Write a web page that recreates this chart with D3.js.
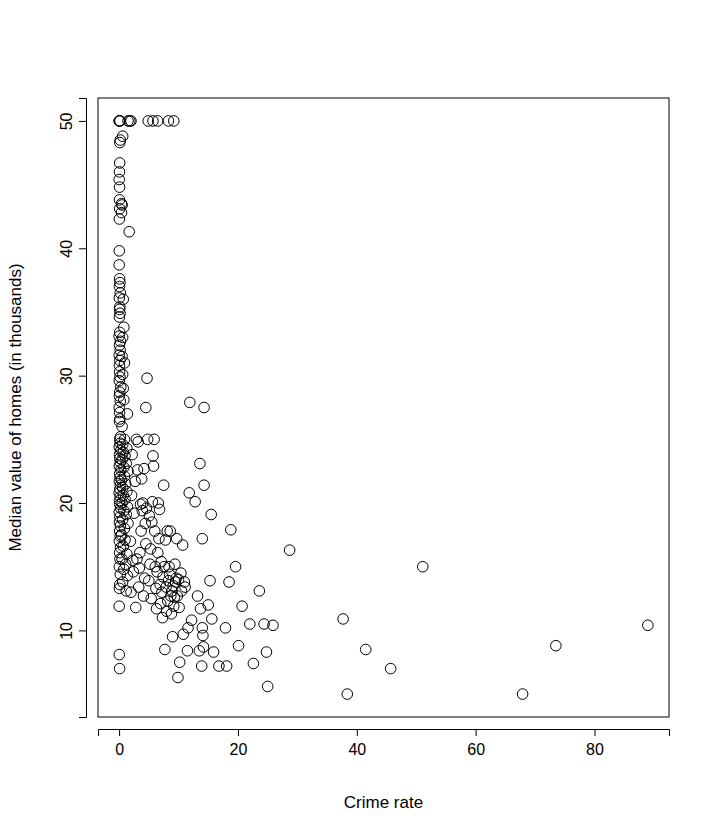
<!DOCTYPE html>
<html>
<head>
<meta charset="utf-8">
<script src="https://cdn.jsdelivr.net/npm/d3@7"></script>
<style>
  body { margin: 0; background: #fff; }
  text { font-family: "Liberation Sans", Arial, sans-serif; fill: #000; }
</style>
</head>
<body>
<svg id="chart" width="720" height="840"></svg>
<script>
// crime rate near zero (parallel arrays)
const crimeA = [
  0.09, 0.03, 0.02, 0.06, 0.12, 0.2, 0.05, 0.15, 0.08, 0.25,
  0.04, 0.18, 0.1, 0.22, 0.06, 0.14, 0.03, 0.27, 0.11, 0.07,
  0.19, 0.02, 0.13, 0.24, 0.05, 0.16, 0.09, 0.29, 0.04, 0.21,
  0.12, 0.07, 0.26, 0.03, 0.17, 0.1, 0.23, 0.06, 0.14, 0.08,
  0.02, 0.2, 0.05, 0.11, 0.28, 0.04, 0.15, 0.09, 0.06, 0.13,
  0.03, 0.18, 0.07, 0.22, 0.01, 0.1, 0.05, 0.16, 0.08, 0.12,
  0.04, 0.2, 0.06, 0.14, 0.09, 0.02, 0.03, 0.05, 0.11, 0.4,
  0.07, 0.08, 0.02, 0.06, 0.1, 0.12, 0.2, 0.01, 0.06, 0.15
];
const medvA = [
  7.0, 8.1, 11.9, 13.3, 13.6, 14.4, 15.0, 15.6, 16.1, 16.5,
  17.0, 17.4, 17.8, 18.2, 18.5, 18.9, 19.3, 19.6, 19.9, 20.2,
  20.5, 20.8, 21.1, 21.4, 21.7, 22.0, 22.3, 22.6, 22.9, 23.2,
  23.5, 23.8, 24.1, 24.4, 24.7, 25.0, 25.2, 26.4, 26.6, 27.1,
  27.5, 28.0, 28.4, 28.7, 29.1, 29.6, 29.9, 30.3, 30.8, 31.2,
  31.6, 32.0, 32.4, 32.7, 33.1, 33.4, 34.6, 34.9, 35.2, 35.4,
  36.1, 36.5, 37.0, 37.3, 37.6, 38.7, 39.8, 42.3, 43.1, 43.5,
  43.8, 44.8, 45.4, 46.0, 46.7, 48.3, 48.5, 50, 50, 50
];
// crime rate 0.4 - 2
const crimeB = [
  1.2, 0.6, 1.4, 0.8, 1.1, 0.5, 1.3, 0.7, 1.0, 0.4,
  0.9, 1.5, 0.6, 1.2, 0.8, 1.4, 0.5, 1.0, 0.7, 1.3,
  0.6, 1.1, 0.4, 0.9, 1.5, 0.8, 1.2, 0.5, 1.0, 0.7,
  1.3, 0.6, 0.9, 0.5, 1.4, 0.8, 0.7, 0.6, 0.9, 0.5,
  0.6, 0.8, 0.7, 1.7, 0.4, 0.5, 0.6, 1.5, 1.8, 2.0
];
const medvB = [
  13.1, 13.8, 14.3, 14.8, 15.2, 15.6, 16.0, 16.6, 17.1, 17.5,
  18.0, 18.4, 18.7, 19.1, 19.4, 19.7, 20.0, 20.3, 20.6, 20.9,
  21.2, 21.5, 21.8, 22.1, 22.5, 22.8, 23.1, 23.4, 23.7, 24.0,
  24.3, 24.6, 25.0, 26.0, 27.0, 28.1, 29.0, 30.1, 31.0, 31.5,
  33.0, 33.8, 36.0, 41.3, 42.8, 43.4, 48.8, 50, 50, 50
];
// [crime, medv] pairs, crime 2 - 10
const midCrime = [
  [2.0,13.0],[2.3,15.5],[2.5,19.2],[2.7,21.7],[2.2,23.8],[1.9,17.0],[2.4,14.6],[2.8,11.8],[2.9,25.0],[2.1,20.6],
  [3.3,13.4],[3.5,16.1],[3.6,19.9],[3.8,21.9],[3.2,24.8],[3.7,17.8],[3.4,14.9],[3.9,19.4],[3.1,22.6],[3.0,15.6],
  [4.1,12.7],[4.3,14.1],[4.5,16.8],[4.6,19.6],[4.2,22.7],[4.8,25.0],[4.5,27.5],[4.7,29.8],[4.0,20.0],[4.4,18.4],
  [5.0,13.9],[5.2,15.2],[5.3,16.4],[5.5,18.5],[5.6,20.1],[5.8,22.9],[5.7,23.7],[5.9,25.0],[5.4,12.5],[5.1,19.0],
  [6.2,13.3],[6.4,14.6],[6.5,16.1],[6.7,17.2],[6.8,19.5],[6.3,11.7],[6.6,20.0],[6.1,15.0],[6.9,13.6],[6.0,17.8],
  [7.0,12.1],[7.2,13.0],[7.4,14.2],[7.6,15.0],[7.8,17.1],[7.5,21.4],[7.3,11.0],[7.7,8.5],[7.9,13.4],[7.1,15.4],
  [8.0,11.5],[8.2,12.3],[8.3,13.9],[8.5,14.4],[8.6,17.8],[8.8,11.3],[8.9,13.1],[8.4,15.0],[8.7,12.7],[8.1,17.8],
  [9.0,9.5],[9.2,11.9],[9.3,12.6],[9.5,13.8],[9.6,14.1],[9.4,15.2],[9.7,17.2],[9.9,6.3],[9.8,12.7],[9.1,13.5],
  [4.9,50],[5.7,50],[6.5,50],[8.3,50],[9.2,50]
];
// [crime, medv] pairs, crime above 10
const highCrime = [
  [88.98,10.4],[73.5,8.8],[67.9,5.0],[51.1,15.0],[45.7,7.0],[41.5,8.5],[38.4,5.0],[37.7,10.9],[28.7,16.3],[25.9,10.4],
  [25.0,5.6],[24.8,8.3],[24.4,10.5],[23.6,13.1],[22.6,7.4],[22.0,10.5],[20.7,11.9],[20.1,8.8],[19.6,15.0],[18.8,17.9],
  [18.5,13.8],[18.1,7.2],[17.9,10.2],[16.8,7.2],[15.9,8.3],[15.6,10.9],[15.3,13.9],[15.5,19.1],[15.0,12.0],[14.3,27.5],
  [14.3,21.4],[14.2,8.7],[14.1,9.6],[14.0,10.2],[13.9,7.2],[13.7,11.7],[13.6,23.1],[13.5,8.4],[13.2,12.7],[14.0,17.2],
  [12.8,20.1],[12.2,10.8],[11.9,27.9],[11.8,20.8],[11.6,10.2],[11.5,8.4],[11.1,13.4],[11.0,13.8],[10.8,9.7],[10.7,16.7],
  [10.2,7.5],[10.1,11.8],[10.4,14.5],[10.0,14.0],[10.5,13.1]
];
const xTicks = [0, 20, 40, 60, 80];
const yTicks = [10, 20, 30, 40, 50];

const points = d3.zip(crimeA, medvA)
  .concat(d3.zip(crimeB, medvB), midCrime, highCrime);

const svg = d3.select('#chart');
const box = { left: 98, right: 669, top: 98, bottom: 717 };

const x = d3.scaleLinear().domain([-3.55, 92.54]).range([box.left, box.right]);
const y = d3.scaleLinear().domain([3.2, 51.8]).range([box.bottom, box.top]);

// points
svg.append('g')
  .selectAll('circle')
  .data(points)
  .enter()
  .append('circle')
  .attr('cx', d => x(d[0]))
  .attr('cy', d => y(d[1]))
  .attr('r', 5.3)
  .attr('fill', 'none')
  .attr('stroke', '#000')
  .attr('stroke-width', 1);

// frame
svg.append('rect')
  .attr('x', box.left)
  .attr('y', box.top)
  .attr('width', box.right - box.left)
  .attr('height', box.bottom - box.top)
  .attr('fill', 'none')
  .attr('stroke', '#000');

// axes
const xAxis = svg.append('g')
  .attr('transform', `translate(0,${box.bottom + 12})`)
  .call(d3.axisBottom(x).tickValues(xTicks).tickSize(7).tickPadding(8));
const yAxis = svg.append('g')
  .attr('transform', `translate(${box.left - 12},0)`)
  .call(d3.axisLeft(y).tickValues(yTicks).tickSize(7).tickPadding(8));

[xAxis, yAxis].forEach(a => {
  a.select('.domain').attr('stroke', '#000');
  a.selectAll('.tick line').attr('stroke', '#000');
  a.selectAll('text').style('font-size', '16px').attr('font-family', null);
});
yAxis.selectAll('.tick text')
  .attr('transform', 'rotate(-90)')
  .attr('x', 0)
  .attr('dy', 0)
  .attr('y', -14)
  .style('text-anchor', 'middle');

// titles
svg.append('text')
  .attr('x', (box.left + box.right) / 2)
  .attr('y', 808)
  .attr('text-anchor', 'middle')
  .style('font-size', '17px')
  .text('Crime rate');

svg.append('text')
  .attr('transform', `translate(21,${(box.top + box.bottom) / 2}) rotate(-90)`)
  .attr('text-anchor', 'middle')
  .style('font-size', '17px')
  .text('Median value of homes (in thousands)');
</script>
</body>
</html>
